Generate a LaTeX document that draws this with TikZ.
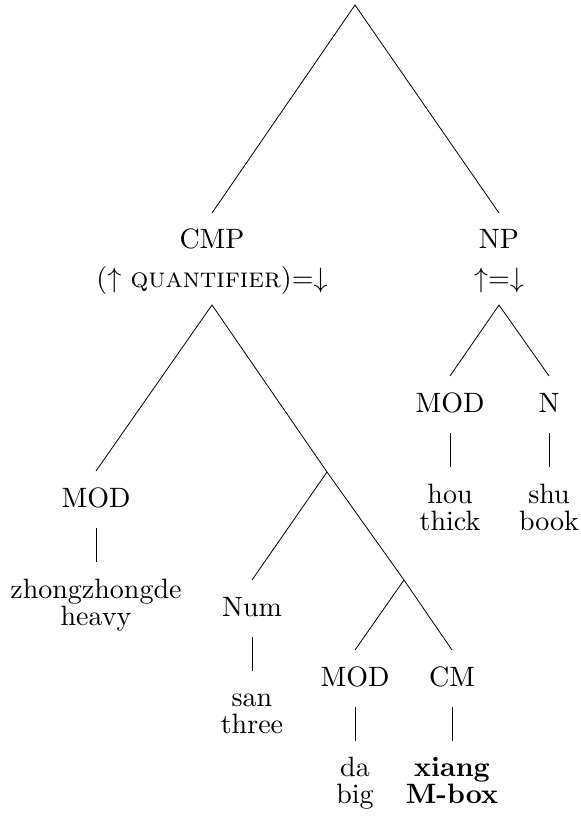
\documentclass[tikz,border=0pt]{standalone}
\begin{document}
\begin{tikzpicture}[x=1pt,y=-1pt,
  lbl/.style={inner sep=0pt, anchor=base, scale=2.8, font=\fontsize{10}{12}\selectfont},
  edge/.style={line width=0.8pt}]
\useasboundingbox (0,0) rectangle (581,822);
% junction / end coordinates
\coordinate (root) at (355,5);
\coordinate (cmpT) at (212,213);
\coordinate (cmpB) at (212,305);
\coordinate (npT) at (499,213);
\coordinate (npB) at (499,305);
\coordinate (nmodT) at (450,376);
\coordinate (nmodA) at (450,433);
\coordinate (nmodZ) at (450,467);
\coordinate (nT) at (549,376);
\coordinate (nA) at (549,433);
\coordinate (nZ) at (549,467);
\coordinate (mod1T) at (96,471);
\coordinate (mod1A) at (96,528);
\coordinate (mod1Z) at (96,562);
\coordinate (int1) at (327,472);
\coordinate (numT) at (252,580);
\coordinate (numA) at (252,637);
\coordinate (numZ) at (252,671);
\coordinate (int2) at (404,580);
\coordinate (mod2T) at (355,650);
\coordinate (mod2A) at (355,707);
\coordinate (mod2Z) at (355,741);
\coordinate (cmT) at (452,650);
\coordinate (cmA) at (452,707);
\coordinate (cmZ) at (452,741);
% labels
\node[lbl] (cmp) at (212,248) {CMP};
\node[lbl] (cmpann) at (212,287) {($\uparrow$ \textsc{quantifier})=$\downarrow$};
\node[lbl] (np) at (499,248) {NP};
\node[lbl] (npann) at (499,287) {$\uparrow$=$\downarrow$};
\node[lbl] (nmod) at (450,412) {MOD};
\node[lbl] (n) at (549,412) {N};
\node[lbl] (hou) at (450,503) {hou};
\node[lbl] (thick) at (450,530) {thick};
\node[lbl] (shu) at (549,503) {shu};
\node[lbl] (book) at (549,530) {book};
\node[lbl] (mod1) at (96,507) {MOD};
\node[lbl] (zh) at (96,598) {zhongzhongde};
\node[lbl] (heavy) at (96,625) {heavy};
\node[lbl] (num) at (252,616) {Num};
\node[lbl] (san) at (252,706) {san};
\node[lbl] (three) at (252,733) {three};
\node[lbl] (mod2) at (355,686) {MOD};
\node[lbl] (cm) at (452,686) {CM};
\node[lbl] (da) at (355,776) {da};
\node[lbl] (big) at (355,803) {big};
\node[lbl] (xiang) at (452,776) {\textbf{xiang}};
\node[lbl] (mbox) at (452,803) {\textbf{M-box}};
% edges
\draw[edge] (cmpT) -- (root) -- (npT);
\draw[edge] (nmodT) -- (npB) -- (nT);
\draw[edge] (nmodA) -- (nmodZ);
\draw[edge] (nA) -- (nZ);
\draw[edge] (mod1T) -- (cmpB) -- (int1) -- (int2) -- (cmT);
\draw[edge] (mod1A) -- (mod1Z);
\draw[edge] (int1) -- (numT);
\draw[edge] (numA) -- (numZ);
\draw[edge] (int2) -- (mod2T);
\draw[edge] (mod2A) -- (mod2Z);
\draw[edge] (cmA) -- (cmZ);
\end{tikzpicture}
\end{document}
